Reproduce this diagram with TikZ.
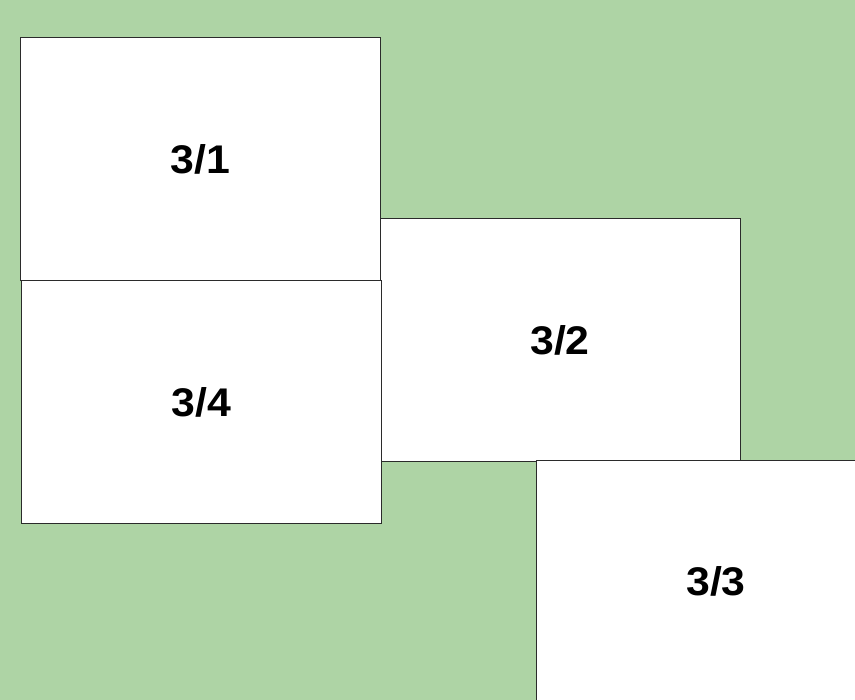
\documentclass[tikz,border=0pt]{standalone}
\usepackage{fontspec}
\setmainfont{Liberation Sans}[BoldFeatures={FakeStretch=1.07}]
\usepackage{xcolor}
\usetikzlibrary{positioning}
\definecolor{fieldc}{HTML}{AED4A5}
\definecolor{edgec}{HTML}{2B2B2B}
\tikzset{
  sheet/.style={draw=edgec,line width=0.9pt,fill=white,minimum width=360pt,minimum height=243pt,inner sep=0pt,
    font=\fontsize{40}{40}\selectfont\bfseries}
}
\begin{document}
\begin{tikzpicture}[x=1pt,y=-1pt]
\clip (0,0) rectangle (855,700);
\fill[fieldc] (0,0) rectangle (855,700);
\node[sheet] (s1) at (200.5,159) {3/1};
\node[sheet] (s2) at (560,340) {3/2};
\node[sheet] (s4) at (201.5,402) {3/4};
\node[sheet] (s3) at (716,581.5) {3/3};
\end{tikzpicture}
\end{document}
